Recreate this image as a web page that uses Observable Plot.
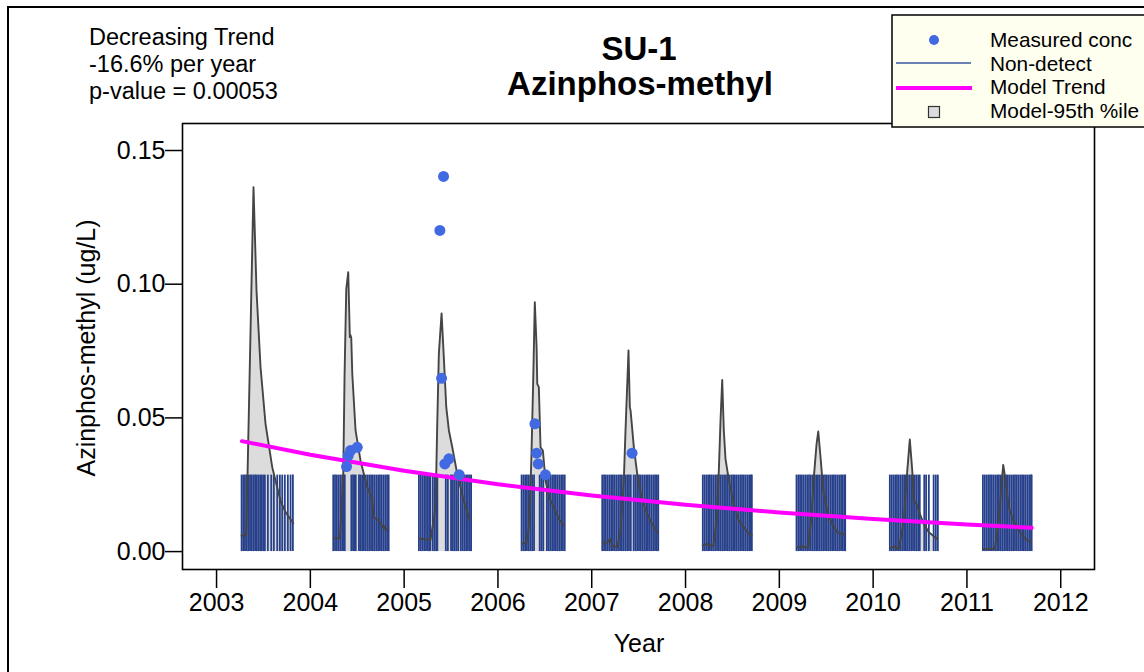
<!DOCTYPE html>
<html>
<head>
<meta charset="utf-8">
<script src="https://cdn.jsdelivr.net/npm/d3@7"></script>
<script src="https://cdn.jsdelivr.net/npm/@observablehq/plot@0.6"></script>
<style>
  html, body { margin: 0; padding: 0; background: #fff; overflow: hidden; }
  #chart { width: 1144px; height: 672px; }
</style>
</head>
<body>
<div id="chart"></div>
<script>
// ---------- data ----------
const xTicks = [2003, 2004, 2005, 2006, 2007, 2008, 2009, 2010, 2011, 2012];
const yTicks = [0, 0.05, 0.10, 0.15];

const measuredYears  = [2004.386, 2004.404, 2004.429, 2004.500, 2005.381, 2005.399, 2005.420, 2005.434, 2005.477, 2005.588, 2006.394, 2006.412, 2006.430, 2006.507, 2007.430];
const measuredValues = [0.0318, 0.0359, 0.0378, 0.0390, 0.1201, 0.0648, 0.1403, 0.0328, 0.0347, 0.0287, 0.0478, 0.0368, 0.0328, 0.0287, 0.0368];

const ndLimit = 0.0286;
const nd2003 = [2003.267, 2003.285, 2003.303, 2003.321, 2003.339, 2003.357, 2003.375, 2003.393, 2003.411, 2003.429, 2003.447, 2003.465, 2003.483, 2003.501, 2003.515, 2003.547, 2003.583, 2003.611, 2003.647, 2003.675, 2003.700, 2003.728, 2003.760, 2003.789, 2003.814];
const nd2004 = [2004.244, 2004.263, 2004.282, 2004.301, 2004.320, 2004.339, 2004.358, 2004.367, 2004.437, 2004.455, 2004.470, 2004.484, 2004.518, 2004.533, 2004.552, 2004.571, 2004.590, 2004.609, 2004.628, 2004.647, 2004.666, 2004.685, 2004.704, 2004.723, 2004.742, 2004.761, 2004.780, 2004.799, 2004.818, 2004.835];
const nd2005 = [2005.157, 2005.176, 2005.195, 2005.214, 2005.233, 2005.252, 2005.268, 2005.277, 2005.303, 2005.322, 2005.341, 2005.354, 2005.444, 2005.466, 2005.500, 2005.519, 2005.538, 2005.557, 2005.576, 2005.604, 2005.623, 2005.642, 2005.661, 2005.680, 2005.699, 2005.714];
const nd2006 = [2006.252, 2006.271, 2006.290, 2006.309, 2006.328, 2006.347, 2006.366, 2006.385, 2006.445, 2006.464, 2006.483, 2006.522, 2006.541, 2006.560, 2006.579, 2006.598, 2006.617, 2006.636, 2006.655, 2006.674, 2006.693, 2006.712];
const nd2007 = [2007.112, 2007.131, 2007.150, 2007.169, 2007.188, 2007.207, 2007.226, 2007.245, 2007.264, 2007.283, 2007.302, 2007.321, 2007.340, 2007.359, 2007.378, 2007.397, 2007.416, 2007.447, 2007.466, 2007.485, 2007.504, 2007.523, 2007.542, 2007.561, 2007.580, 2007.599, 2007.618, 2007.637, 2007.656, 2007.675, 2007.694, 2007.709];
const nd2008 = [2008.184, 2008.203, 2008.222, 2008.241, 2008.260, 2008.279, 2008.298, 2008.317, 2008.336, 2008.355, 2008.374, 2008.393, 2008.412, 2008.431, 2008.450, 2008.469, 2008.488, 2008.507, 2008.526, 2008.545, 2008.564, 2008.583, 2008.602, 2008.621, 2008.640, 2008.659, 2008.678, 2008.697, 2008.707];
const nd2009 = [2009.183, 2009.202, 2009.221, 2009.240, 2009.259, 2009.278, 2009.297, 2009.316, 2009.335, 2009.354, 2009.373, 2009.392, 2009.411, 2009.430, 2009.449, 2009.468, 2009.487, 2009.506, 2009.525, 2009.544, 2009.563, 2009.582, 2009.601, 2009.620, 2009.639, 2009.658, 2009.677, 2009.696, 2009.702];
const nd2010 = [2010.178, 2010.197, 2010.216, 2010.235, 2010.254, 2010.273, 2010.292, 2010.311, 2010.330, 2010.349, 2010.368, 2010.387, 2010.406, 2010.425, 2010.444, 2010.463, 2010.482, 2010.497, 2010.545, 2010.565, 2010.594, 2010.645, 2010.668, 2010.690];
const nd2011 = [2011.170, 2011.189, 2011.208, 2011.227, 2011.246, 2011.265, 2011.284, 2011.303, 2011.322, 2011.341, 2011.360, 2011.379, 2011.398, 2011.417, 2011.436, 2011.455, 2011.474, 2011.493, 2011.512, 2011.531, 2011.550, 2011.569, 2011.588, 2011.607, 2011.626, 2011.645, 2011.664, 2011.683, 2011.690];

// model 95th percentile, one spike per season
const p95Years2003  = [2003.267, 2003.317, 2003.355, 2003.394, 2003.426, 2003.469, 2003.522, 2003.594, 2003.682, 2003.736, 2003.818];
const p95Values2003 = [0.0060, 0.0062, 0.0700, 0.1363, 0.0976, 0.0689, 0.0478, 0.0315, 0.0190, 0.0147, 0.0106];
const p95Years2004  = [2004.251, 2004.315, 2004.351, 2004.365, 2004.383, 2004.404, 2004.421, 2004.427, 2004.436, 2004.447, 2004.482, 2004.535, 2004.607, 2004.660, 2004.677, 2004.730, 2004.784, 2004.790, 2004.820];
const p95Values2004 = [0.0050, 0.0050, 0.0290, 0.0665, 0.0983, 0.1045, 0.0802, 0.0810, 0.0800, 0.0665, 0.0453, 0.0340, 0.0240, 0.0197, 0.0128, 0.0116, 0.0085, 0.0095, 0.0079];
const p95Years2005  = [2005.167, 2005.281, 2005.335, 2005.353, 2005.370, 2005.399, 2005.423, 2005.449, 2005.477, 2005.513, 2005.566, 2005.636, 2005.700];
const p95Values2005 = [0.0049, 0.0043, 0.0166, 0.0478, 0.0740, 0.0891, 0.0727, 0.0540, 0.0453, 0.0390, 0.0290, 0.0190, 0.0116];
const p95Years2006  = [2006.259, 2006.305, 2006.329, 2006.355, 2006.376, 2006.393, 2006.412, 2006.419, 2006.436, 2006.454, 2006.479, 2006.507, 2006.553, 2006.614, 2006.649, 2006.703];
const p95Values2006 = [0.0029, 0.0035, 0.0090, 0.0328, 0.0640, 0.0933, 0.0764, 0.0627, 0.0615, 0.0390, 0.0378, 0.0266, 0.0197, 0.0153, 0.0122, 0.0097];
const p95Years2007  = [2007.118, 2007.165, 2007.193, 2007.218, 2007.272, 2007.307, 2007.342, 2007.360, 2007.392, 2007.406, 2007.414, 2007.449, 2007.485, 2007.539, 2007.592, 2007.645, 2007.698];
const p95Values2007 = [0.0029, 0.0035, 0.0048, 0.0022, 0.0016, 0.0079, 0.0266, 0.0453, 0.0752, 0.0540, 0.0527, 0.0390, 0.0290, 0.0190, 0.0141, 0.0103, 0.0072];
const p95Years2008  = [2008.184, 2008.231, 2008.295, 2008.330, 2008.355, 2008.373, 2008.391, 2008.408, 2008.426, 2008.462, 2008.515, 2008.568, 2008.622, 2008.675, 2008.704];
const p95Values2008 = [0.0022, 0.0029, 0.0019, 0.0116, 0.0303, 0.0490, 0.0642, 0.0453, 0.0347, 0.0266, 0.0179, 0.0116, 0.0091, 0.0066, 0.0060];
const p95Years2009  = [2009.191, 2009.244, 2009.304, 2009.340, 2009.368, 2009.397, 2009.415, 2009.439, 2009.468, 2009.511, 2009.564, 2009.617, 2009.695];
const p95Values2009 = [0.0016, 0.0020, 0.0014, 0.0116, 0.0278, 0.0403, 0.0449, 0.0353, 0.0228, 0.0153, 0.0103, 0.0072, 0.0064];
const p95Years2010  = [2010.186, 2010.228, 2010.274, 2010.327, 2010.364, 2010.391, 2010.417, 2010.434, 2010.463, 2010.498, 2010.540, 2010.594, 2010.683];
const p95Values2010 = [0.0014, 0.0019, 0.0010, 0.0116, 0.0303, 0.0419, 0.0303, 0.0190, 0.0179, 0.0141, 0.0103, 0.0072, 0.0047];
const p95Years2011  = [2011.174, 2011.244, 2011.297, 2011.340, 2011.366, 2011.387, 2011.412, 2011.447, 2011.494, 2011.554, 2011.607, 2011.678];
const p95Values2011 = [0.0010, 0.0010, 0.0010, 0.0116, 0.0240, 0.0324, 0.0266, 0.0166, 0.0116, 0.0079, 0.0054, 0.0035];

const trendYears  = [2003.27, 2004, 2005, 2006, 2007, 2008, 2009, 2010, 2011, 2011.69];
const trendValues = [0.0413, 0.0362, 0.0302, 0.0252, 0.0210, 0.0175, 0.0146, 0.0122, 0.0101, 0.0089];

const titleLines = ["SU-1", "Azinphos-methyl"];
const noteLines = ["Decreasing Trend", "-16.6% per year", "p-value = 0.00053"];
const legendLabels = ["Measured conc", "Non-detect", "Model Trend", "Model-95th %ile"];

// ---------- tables ----------
const measured = measuredYears.map((x, i) => ({x, y: measuredValues[i]}));
const nonDetect = [nd2003, nd2004, nd2005, nd2006, nd2007, nd2008, nd2009, nd2010, nd2011].flat().map(x => ({x}));
const seasons = [
  [p95Years2003, p95Values2003], [p95Years2004, p95Values2004], [p95Years2005, p95Values2005],
  [p95Years2006, p95Values2006], [p95Years2007, p95Values2007], [p95Years2008, p95Values2008],
  [p95Years2009, p95Values2009], [p95Years2010, p95Values2010], [p95Years2011, p95Values2011]
];
const p95 = seasons.flatMap(([ys, vs], s) => ys.map((x, i) => ({season: s, x, y: vs[i]})));
const trend = trendYears.map((x, i) => ({x, y: trendValues[i]}));

const FONT = "'Liberation Sans', Arial, Helvetica, sans-serif";

const svg = Plot.plot({
  width: 1144,
  height: 672,
  marginLeft: 182,
  marginRight: 50,
  marginTop: 123,
  marginBottom: 103,
  style: {fontFamily: FONT, fontSize: "25px", background: "#fff", color: "#000", overflow: "visible"},
  x: {domain: [2002.637, 2012.36]},
  y: {domain: [-0.0067, 0.1601]},
  marks: [
    Plot.areaY(p95, {x: "x", y: "y", z: "season", fill: "#dcdcdc"}),
    Plot.ruleX(nonDetect, {x: "x", y1: 0, y2: ndLimit, stroke: "#27408B", strokeWidth: 1.8}),
    Plot.line(p95, {x: "x", y: "y", z: "season", stroke: "#454545", strokeWidth: 1.9}),
    Plot.line(trend, {x: "x", y: "y", stroke: "#ff00ff", strokeWidth: 4}),
    Plot.dot(measured, {x: "x", y: "y", r: 5.5, fill: "#4169E1", stroke: "none"}),
    Plot.frame({stroke: "#000", strokeWidth: 1.6}),
    Plot.axisX({ticks: xTicks, tickFormat: d => String(d), tickSize: 19, tickPadding: 5, label: null, strokeWidth: 1.5, fontSize: 25}),
    Plot.axisY({ticks: yTicks, tickFormat: d => d.toFixed(2), tickSize: 17, tickPadding: 0, label: null, strokeWidth: 1.5, fontSize: 25})
  ]
});

document.getElementById("chart").appendChild(svg);

const g = d3.select(svg).append("g").attr("font-family", FONT).attr("text-anchor", "start");

// outer figure border
g.append("rect").attr("x", 8).attr("y", 7).attr("width", 1160).attr("height", 690)
  .attr("fill", "none").attr("stroke", "#000").attr("stroke-width", 2);

// axis titles
g.append("text").attr("x", 639).attr("y", 652).attr("text-anchor", "middle")
  .attr("font-size", 25).text("Year");
g.append("text").attr("transform", "translate(95,348) rotate(-90)").attr("text-anchor", "middle")
  .attr("font-size", 25).text("Azinphos-methyl (ug/L)");

// title
g.append("text").attr("x", 639).attr("y", 60).attr("text-anchor", "middle")
  .attr("font-size", 33).attr("font-weight", "bold").text(titleLines[0]);
g.append("text").attr("x", 640).attr("y", 95).attr("text-anchor", "middle")
  .attr("font-size", 33).attr("font-weight", "bold").text(titleLines[1]);

// trend note
noteLines.forEach((t, i) => {
  g.append("text").attr("x", 89).attr("y", 45 + i * 27).attr("text-anchor", "start")
    .attr("font-size", 23.5).text(t);
});

// legend
const lg = g.append("g");
lg.append("rect").attr("x", 892).attr("y", 15).attr("width", 270).attr("height", 112)
  .attr("fill", "#fffff0").attr("stroke", "#000").attr("stroke-width", 1.5);
lg.append("circle").attr("cx", 934).attr("cy", 40).attr("r", 5).attr("fill", "#4169E1");
lg.append("line").attr("x1", 896).attr("x2", 971).attr("y1", 63).attr("y2", 63)
  .attr("stroke", "#3b57a0").attr("stroke-width", 1.5);
lg.append("line").attr("x1", 896).attr("x2", 972).attr("y1", 88).attr("y2", 88)
  .attr("stroke", "#ff00ff").attr("stroke-width", 4);
lg.append("rect").attr("x", 928.5).attr("y", 106.5).attr("width", 11).attr("height", 11)
  .attr("fill", "#dcdcdc").attr("stroke", "#333").attr("stroke-width", 1.2);
legendLabels.forEach((t, i) => {
  lg.append("text").attr("x", 990).attr("y", 47 + i * 23.7).attr("text-anchor", "start")
    .attr("font-size", 20.8).text(t);
});
</script>
</body>
</html>
